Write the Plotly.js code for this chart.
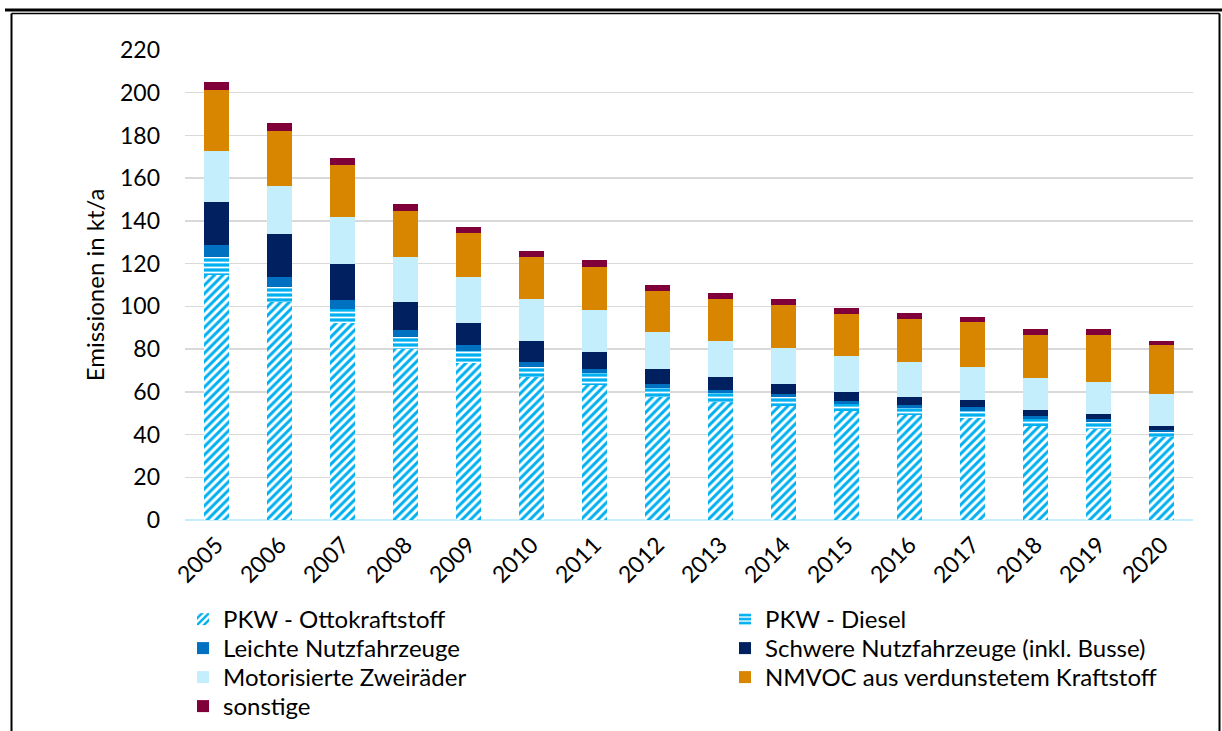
<!DOCTYPE html>
<html>
<head>
<meta charset="utf-8">
<script src="https://cdn.plot.ly/plotly-3.0.1.min.js"></script>
<style>
  html, body { margin: 0; padding: 0; background: #fff; }
  #chart { width: 1222px; height: 731px; }
</style>
</head>
<body>
<div id="chart"></div>
<script>
const years = ['2005','2006','2007','2008','2009','2010','2011','2012','2013','2014','2015','2016','2017','2018','2019','2020'];

const pkwOtto   = [114.7, 101.9, 92.4, 79.9, 73.6, 67.1, 63.2, 57.4, 55.1, 53.4, 51.0, 49.2, 47.6, 44.2, 42.6, 39.0];
const pkwDiesel = [8.3, 7.2, 6.5, 5.9, 5.5, 4.7, 5.5, 4.3, 4.2, 4.0, 3.3, 3.1, 3.4, 3.1, 3.3, 2.0];
const leichteNfz = [5.7, 4.7, 4.1, 3.2, 2.8, 2.2, 2.0, 2.0, 1.6, 1.6, 1.4, 1.4, 1.8, 1.4, 1.4, 1.1];
const schwereNfz = [20.0, 19.9, 16.7, 13.1, 10.5, 9.8, 7.8, 6.9, 6.1, 4.7, 4.4, 4.0, 3.2, 2.8, 2.3, 1.9];
const zweiraeder = [24.1, 22.8, 22.3, 21.2, 21.2, 19.5, 20.0, 17.3, 17.0, 17.0, 16.7, 16.3, 15.8, 15.1, 15.0, 15.0];
const nmvocVerd  = [28.5, 25.8, 24.4, 21.4, 20.6, 19.8, 20.0, 19.3, 19.5, 20.0, 19.8, 20.1, 20.9, 20.2, 22.2, 22.9];
const sonstige   = [3.6, 3.4, 3.2, 3.2, 3.0, 3.0, 3.0, 2.8, 2.8, 2.6, 2.8, 2.7, 2.3, 2.5, 2.5, 1.9];

const names = ['PKW - Ottokraftstoff', 'PKW - Diesel', 'Leichte Nutzfahrzeuge',
               'Schwere Nutzfahrzeuge (inkl. Busse)', 'Motorisierte Zweiräder',
               'NMVOC aus verdunstetem Kraftstoff', 'sonstige'];

const FONT = 'Lato, "Open Sans", "DejaVu Sans", sans-serif';

function bar(name, y, marker, legendId) {
  return { type: 'bar', name: name, x: years, y: y, marker: marker,
           legend: legendId, hoverinfo: 'x+y+name' };
}

const traces = [
  bar(names[0], pkwOtto, { color: '#00B0F0', line: { width: 0 },
      pattern: { shape: '/', fgcolor: '#00B0F0', bgcolor: '#FFFFFF', size: 6, solidity: 0.5, fillmode: 'replace' } }, 'legend'),
  bar(names[1], pkwDiesel, { color: '#00B0F0', line: { width: 0 },
      pattern: { shape: '-', fgcolor: '#FFFFFF', bgcolor: '#00B0F0', size: 5, solidity: 0.35, fillmode: 'replace' } }, 'legend2'),
  bar(names[2], leichteNfz, { color: '#0070C0', line: { width: 0 } }, 'legend3'),
  bar(names[3], schwereNfz, { color: '#002060', line: { width: 0 } }, 'legend4'),
  bar(names[4], zweiraeder, { color: '#C5EEFD', line: { width: 0 } }, 'legend5'),
  bar(names[5], nmvocVerd, { color: '#D88600', line: { width: 0 } }, 'legend6'),
  bar(names[6], sonstige, { color: '#80003A', line: { width: 0 } }, 'legend7')
];

// pixel -> paper helpers
const L = 185, R = 1193, T = 50, B = 520;
const px = v => (v - L) / (R - L);
const py = v => (B - v) / (B - T);

function leg(xPix, rowCenterPix) {
  return {
    orientation: 'v', x: px(xPix), y: py(rowCenterPix - 23), xanchor: 'left', yanchor: 'top',
    font: { family: FONT, size: 24, color: '#000' },
    itemclick: false, bgcolor: 'rgba(0,0,0,0)', borderwidth: 0
  };
}
const col1 = 183, col2 = 725;
const rows = [620, 649, 678, 707];

const layout = {
  width: 1222, height: 731, autosize: false,
  margin: { l: L, r: 1222 - R, t: T, b: 731 - B, pad: 0, autoexpand: false },
  paper_bgcolor: '#FFFFFF', plot_bgcolor: '#FFFFFF',
  font: { family: FONT, size: 23, color: '#000000' },
  barmode: 'stack',
  bargap: 0.6,
  showlegend: true,
  xaxis: {
    type: 'category', tickangle: -45, automargin: false,
    showgrid: false, showline: false, ticks: '', zeroline: false,
    tickfont: { family: FONT, size: 23, color: '#000' },
    ticklabelstandoff: 6
  },
  yaxis: {
    range: [0, 220], dtick: 20, tick0: 0, automargin: false,
    showgrid: true, gridcolor: '#D9D9D9', gridwidth: 1.5,
    zeroline: true, zerolinecolor: '#C5EEFD', zerolinewidth: 2.5,
    showline: false, ticks: '',
    tickfont: { family: FONT, size: 23, color: '#000' },
    ticklabelstandoff: 24,
    title: { text: 'Emissionen in kt/a', font: { family: FONT, size: 24, color: '#000' }, standoff: 8 }
  },
  legend:  leg(col1, rows[0]),
  legend2: leg(col2, rows[0]),
  legend3: leg(col1, rows[1]),
  legend4: leg(col2, rows[1]),
  legend5: leg(col1, rows[2]),
  legend6: leg(col2, rows[2]),
  legend7: leg(col1, rows[3]),
  shapes: [
    { type: 'line', xref: 'paper', yref: 'paper', x0: px(5), x1: px(1222), y0: py(10), y1: py(10),
      line: { color: '#000', width: 3 } },
    { type: 'line', xref: 'paper', yref: 'paper', x0: px(11.5), x1: px(1219.5), y0: py(13.5), y1: py(13.5),
      line: { color: '#000', width: 1.5 } },
    { type: 'line', xref: 'paper', yref: 'paper', x0: px(11.5), x1: px(11.5), y0: py(13.5), y1: py(740),
      line: { color: '#000', width: 2 } },
    { type: 'line', xref: 'paper', yref: 'paper', x0: px(1219.5), x1: px(1219.5), y0: py(13.5), y1: py(740),
      line: { color: '#000', width: 2 } }
  ]
};

Plotly.newPlot('chart', traces, layout, { displayModeBar: false, staticPlot: true });
</script>
</body>
</html>
